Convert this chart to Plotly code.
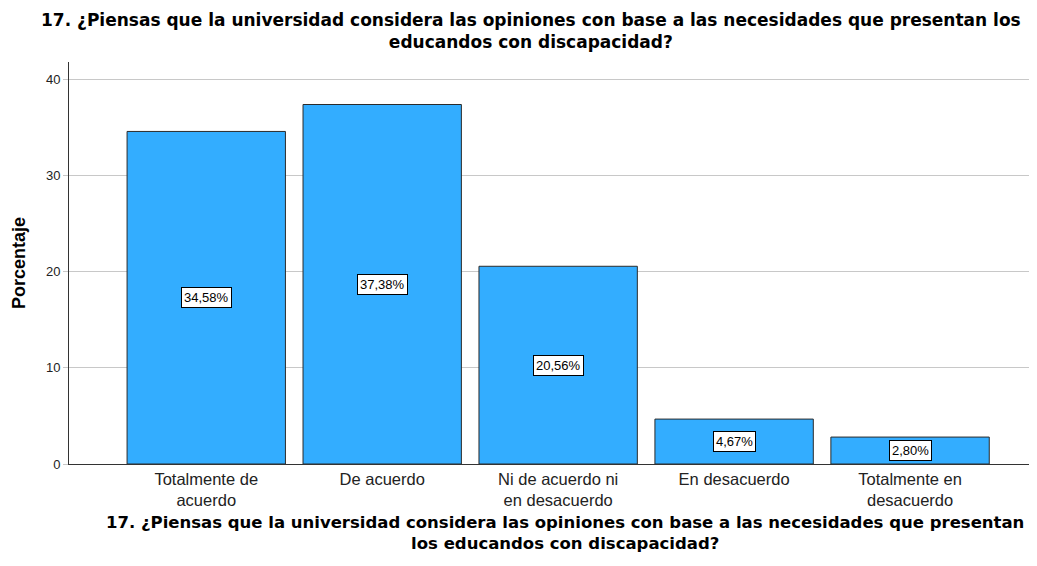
import plotly.graph_objects as go

categories = ["Totalmente de<br>acuerdo", "De acuerdo", "Ni de acuerdo ni<br>en desacuerdo",
              "En desacuerdo", "Totalmente en<br>desacuerdo"]
values = [34.58, 37.38, 20.56, 4.67, 2.80]
labels = ["34,58%", "37,38%", "20,56%", "4,67%", "2,80%"]
title_text = ("17. ¿Piensas que la universidad considera las opiniones con base a las necesidades que presentan los<br>"
              "educandos con discapacidad?")
xtitle_text = ("17. ¿Piensas que la universidad considera las opiniones con base a las necesidades que presentan<br>"
               "los educandos con discapacidad?")

xs = list(range(len(values)))

fig = go.Figure()
fig.add_trace(go.Bar(
    x=xs, y=values,
    marker=dict(color="#33adff", line=dict(color="#2b2b2b", width=1)),
    width=0.9,
    hoverinfo="skip",
))

for x, v, t in zip(xs, values, labels):
    fig.add_annotation(x=x, y=v / 2, text=t, showarrow=False,
                       font=dict(family="Liberation Sans, Arial", size=13, color="black"),
                       bgcolor="white", bordercolor="black", borderwidth=1, borderpad=2)

# chart title (top)
fig.add_annotation(text="<b>" + title_text + "</b>", xref="paper", yref="paper",
                   x=0.478, y=1.134, xanchor="center", yanchor="top", showarrow=False,
                   font=dict(family="DejaVu Sans", size=17, color="black"))
# x-axis title (bottom)
fig.add_annotation(text="<b>" + xtitle_text + "</b>", xref="paper", yref="paper",
                   x=0.513, y=-0.118, xanchor="center", yanchor="top", showarrow=False,
                   font=dict(family="DejaVu Sans", size=16.5, color="black"))

fig.update_layout(
    width=1029, height=558,
    margin=dict(l=61, r=2, t=54, b=102),
    paper_bgcolor="white", plot_bgcolor="white",
    showlegend=False,
    xaxis=dict(range=[-0.78, 4.71], tickvals=xs, ticktext=categories,
               showgrid=False, showline=True, linecolor="#333", linewidth=1,
               ticks="", zeroline=False, automargin=False,
               tickfont=dict(family="Liberation Sans, Arial", size=16.5, color="#222")),
    yaxis=dict(range=[0, 41.8], tickvals=[0, 10, 20, 30, 40],
               showgrid=True, gridcolor="#c8c8c8", gridwidth=1,
               showline=True, linecolor="#333", linewidth=1,
               ticks="outside", ticklen=5, tickcolor="#c8c8c8",
               zeroline=False, automargin=False,
               tickfont=dict(family="Liberation Sans, Arial", size=13, color="#222"),
               title=dict(text="<b>Porcentaje</b>", standoff=15,
                          font=dict(family="Liberation Sans, Arial", size=18, color="black"))),
)

fig.write_html("out.html")
